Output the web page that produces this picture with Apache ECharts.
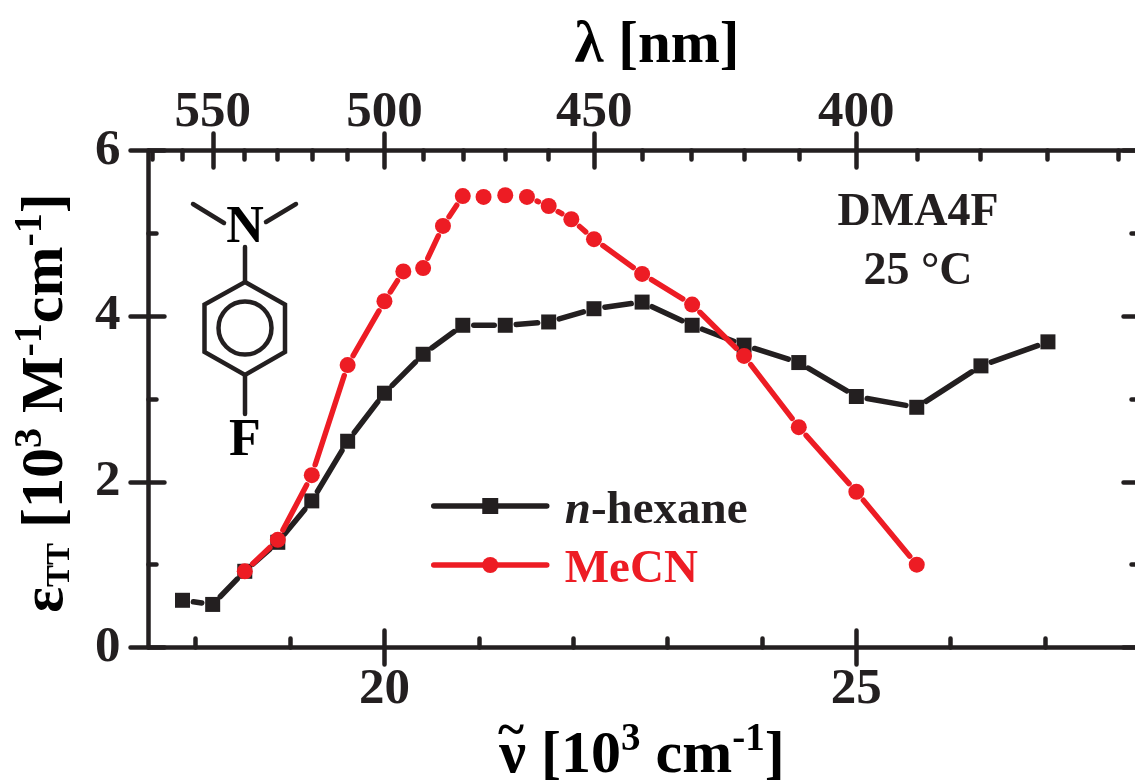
<!DOCTYPE html>
<html><head><meta charset="utf-8">
<style>html,body{margin:0;padding:0;background:#fff}#c{width:1135px;height:784px}</style>
<script src="https://cdn.jsdelivr.net/npm/echarts@6/dist/echarts.min.js"></script>
</head><body><div id="c"></div>
<script>
const hexaneX=[17.86,18.18,18.52,18.87,19.23,19.61,20,20.41,20.83,21.28,21.74,22.22,22.73,23.26,23.81,24.39,25,25.64,26.32,27.03];
const hexaneY=[0.57,0.52,0.92,1.27,1.77,2.49,3.07,3.54,3.89,3.89,3.93,4.09,4.17,3.89,3.65,3.44,3.03,2.90,3.40,3.69];
const mecnX=[18.52,18.87,19.23,19.61,20,20.2,20.41,20.62,20.83,21.05,21.28,21.51,21.74,21.98,22.22,22.73,23.26,23.81,24.39,25,25.64];
const mecnY=[0.92,1.30,2.08,3.41,4.18,4.54,4.58,5.09,5.45,5.44,5.46,5.44,5.33,5.17,4.93,4.51,4.14,3.52,2.66,1.88,1.00];
const xMajor=[20,25];
const xMinor=[18,19,21,22,23,24,26,27];
const yMajor=[0,2,4,6];
const yMinor=[1,3,5];
const lambdaMajor=[550,500,450,400];
const lambdaMinor=[570,560,540,530,520,510,490,480,470,460,440,430,420,410,390,380,370,360];
const BLACK='#231f20',RED='#ed1c24',FONT='"Liberation Serif","Times New Roman",serif';
const GAP=11,LW=5.5,AW=4.5;

const toWave=l=>1e4/l;
const richOf=(b,sup,sub)=>({
  b:{fontFamily:FONT,fontWeight:'bold',fontSize:b,color:'#000',lineHeight:66,verticalAlign:'bottom'},
  sup:{fontFamily:FONT,fontWeight:'bold',fontSize:sup,color:'#000',lineHeight:sup,verticalAlign:'top'},
  sub:{fontFamily:FONT,fontWeight:'bold',fontSize:sub,color:'#000',lineHeight:sub,verticalAlign:'bottom'}
});
const XR={min:17.5,max:28,type:'value',splitLine:{show:false}};
const YR={min:0,max:6,type:'value',splitLine:{show:false}};
const lineS={show:true,onZero:false,lineStyle:{color:BLACK,width:AW,cap:'round'}};
const noLine={show:false,onZero:false};
function tick(values,len,inside){
  return {show:true,customValues:values,length:len,inside:inside,lineStyle:{color:BLACK,width:AW,cap:'round'}};
}
const noLabel={show:false};
const labelBase={show:true,color:BLACK,fontFamily:FONT,fontWeight:'bold',fontSize:51};

const xAxis=[
 Object.assign({},XR,{position:'bottom',axisLine:lineS,axisTick:tick(xMajor,17,false),
   axisLabel:Object.assign({},labelBase,{customValues:xMajor,margin:17}),
   name:'{b|ν [10}{sup|3}{b| cm}{sup|-1}{b|]}',nameLocation:'middle',nameGap:72,
   nameTextStyle:{rich:richOf(60,39,32),padding:[0,4,0,0]}}),
 Object.assign({},XR,{position:'bottom',axisLine:noLine,axisTick:tick(xMajor,17,true),axisLabel:noLabel}),
 Object.assign({},XR,{position:'bottom',axisLine:noLine,axisTick:tick(xMinor,9,true),axisLabel:noLabel}),
 Object.assign({},XR,{position:'top',axisLine:lineS,axisTick:tick(lambdaMajor.map(toWave),17,false),
   axisLabel:Object.assign({},labelBase,{customValues:lambdaMajor.map(toWave),margin:12,formatter:v=>String(Math.round(1e4/v))}),
   name:'{b|λ [nm]}',nameLocation:'middle',nameGap:74,nameTextStyle:{rich:richOf(59,38,32),padding:[0,0,0,26]}}),
 Object.assign({},XR,{position:'top',axisLine:noLine,axisTick:tick(lambdaMajor.map(toWave),17,true),axisLabel:noLabel}),
 Object.assign({},XR,{position:'top',axisLine:noLine,axisTick:tick(lambdaMinor.map(toWave),9,true),axisLabel:noLabel})
];
const yAxis=[
 Object.assign({},YR,{position:'left',axisLine:lineS,axisTick:tick(yMajor,18,false),
   axisLabel:Object.assign({},labelBase,{customValues:yMajor,margin:28}),
   name:'{b|ε}{sub|TT}{b| [10}{sup|3}{b| M}{sup|-1}{b|cm}{sup|-1}{b|]}',nameLocation:'middle',nameRotate:90,nameGap:72,
   nameTextStyle:{rich:richOf(60,40,33),padding:[0,8,0,0]}}),
 Object.assign({},YR,{position:'left',axisLine:noLine,axisTick:tick(yMajor,16,true),axisLabel:noLabel}),
 Object.assign({},YR,{position:'left',axisLine:noLine,axisTick:tick(yMinor,8,true),axisLabel:noLabel}),
 Object.assign({},YR,{position:'right',axisLine:lineS,axisTick:tick(yMajor,16,true),axisLabel:noLabel}),
 Object.assign({},YR,{position:'right',axisLine:noLine,axisTick:tick(yMinor,8,true),axisLabel:noLabel})
];

function gapSeries(name,xs,ys,color,z){
  const data=[];
  for(let i=0;i<xs.length-1;i++)data.push([xs[i],ys[i],xs[i+1],ys[i+1]]);
  return {type:'custom',name:name,z:z,silent:true,clip:false,xAxisIndex:0,yAxisIndex:0,encode:{x:0,y:1},data:data,
    renderItem:function(p,api){
      const a=api.coord([api.value(0),api.value(1)]),b=api.coord([api.value(2),api.value(3)]);
      const dx=b[0]-a[0],dy=b[1]-a[1],d=Math.hypot(dx,dy);
      if(d<2*GAP)return null;
      const u=GAP/d;
      return {type:'line',shape:{x1:a[0]+dx*u,y1:a[1]+dy*u,x2:b[0]-dx*u,y2:b[1]-dy*u},
        style:{stroke:color,lineWidth:LW,lineCap:'round'}};
    }};
}
function markSeries(name,xs,ys,color,symbol,size,z){
  return {type:'line',name:name,z:z,xAxisIndex:0,yAxisIndex:0,symbol:symbol,symbolSize:size,showSymbol:true,
    animation:false,clip:false,itemStyle:{color:color},lineStyle:{width:0,color:color},
    data:xs.map((x,i)=>[x,ys[i]])};
}
const T=(text,x,y,size,color)=>({type:'text',x:x,y:y,style:{text:text,font:'bold '+size+'px '+FONT,fill:color||BLACK,textAlign:'center',textVerticalAlign:'middle'}});
const L=(x1,y1,x2,y2)=>({type:'line',shape:{x1,y1,x2,y2},style:{stroke:BLACK,lineWidth:AW,lineCap:'round'}});

const chart=echarts.init(document.getElementById('c'),null,{renderer:'canvas'});
chart.setOption({
  animation:false,backgroundColor:'#fff',
  grid:{left:148.5,top:150.5,width:991,height:497,containLabel:false,outerBoundsMode:'none'},
  xAxis:xAxis,yAxis:yAxis,
  legend:{orient:'vertical',left:426,top:482,itemWidth:113,itemHeight:20,itemGap:12,selectedMode:false,
    textStyle:{fontFamily:FONT,fontWeight:'bold',fontSize:47,padding:[9,0,0,13],
      rich:{i:{fontFamily:FONT,fontWeight:'bold',fontStyle:'italic',fontSize:47,color:BLACK},
            h:{fontFamily:FONT,fontWeight:'bold',fontSize:47,color:BLACK},
            m:{fontFamily:FONT,fontWeight:'bold',fontSize:47,color:RED}}},
    formatter:n=>n==='n-hexane'?'{i|n}{h|-hexane}':'{m|MeCN}',
    data:[{name:'n-hexane',lineStyle:{width:LW,color:BLACK,cap:'round'}},
          {name:'MeCN',lineStyle:{width:LW,color:RED,cap:'round'}}]},
  series:[
    gapSeries('n-hexane segments',hexaneX,hexaneY,BLACK,2),
    markSeries('n-hexane',hexaneX,hexaneY,BLACK,'rect',15,3),
    gapSeries('MeCN segments',mecnX,mecnY,RED,4),
    markSeries('MeCN',mecnX,mecnY,RED,'circle',16,5)
  ],
  graphic:[
    T('DMA4F',918,213,46),T('25 °C',918,272,46),
    T('~',511,733,50,'#000'),
    T('N',245,229,52,'#000'),T('F',245,442,52,'#000'),
    L(193,204,224,223),L(296,204,266,222),L(245,247,245,282),L(245,375,245,414),
    {type:'polygon',shape:{points:[[245,282],[285,304.5],[285,352],[245,375],[204.5,352],[204.5,304.5]]},style:{fill:'none',stroke:BLACK,lineWidth:AW,lineJoin:'miter'}},
    {type:'circle',shape:{cx:245,cy:328,r:26.5},style:{fill:'none',stroke:BLACK,lineWidth:AW}}
  ]
});
</script></body></html>
